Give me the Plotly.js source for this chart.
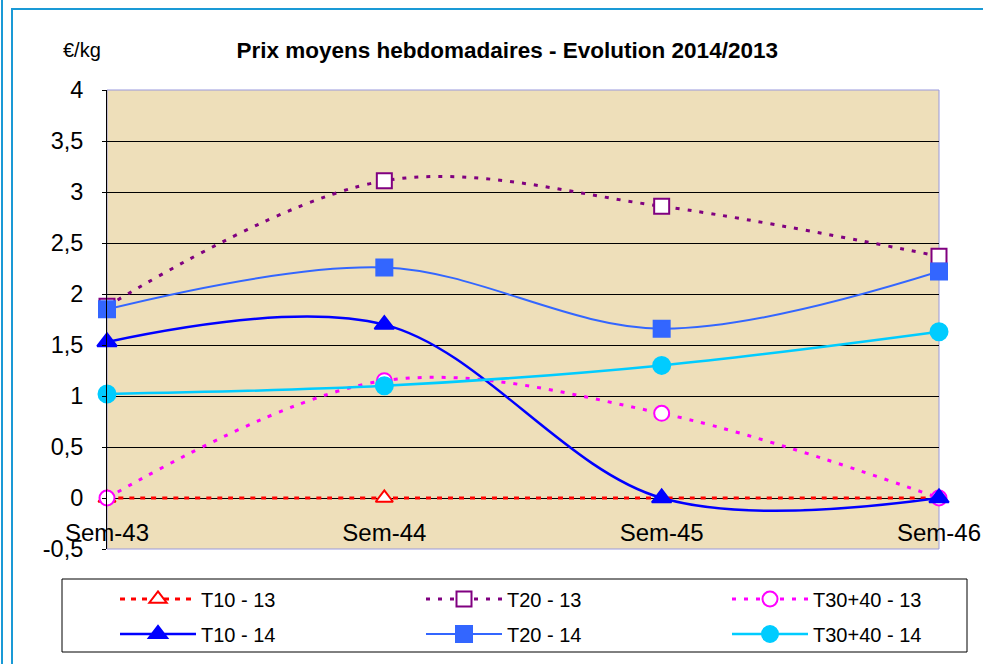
<!DOCTYPE html>
<html>
<head>
<meta charset="utf-8">
<script src="https://cdn.plot.ly/plotly-3.0.1.min.js"></script>
<style>
html,body{margin:0;padding:0;background:#fff;}
#wrap{position:relative;width:983px;height:664px;overflow:hidden;}
#chart{position:absolute;left:0;top:0;width:983px;height:664px;}
.fl{position:absolute;background:#1a9ad6;pointer-events:none;}
</style>
</head>
<body>
<div id="wrap">
<div id="chart"></div>
<div class="fl" style="left:1px;top:0;width:2px;height:664px;"></div>
<div class="fl" style="left:11px;top:8px;width:2px;height:656px;"></div>
<div class="fl" style="left:11px;top:8px;width:972px;height:2px;"></div>
</div>
<script>
const weeks = ["Sem-43", "Sem-44", "Sem-45", "Sem-46"];
const seriesNames = ["T10 - 13", "T20 - 13", "T30+40 - 13", "T10 - 14", "T20 - 14", "T30+40 - 14"];
const t10_13 = [0, 0, 0, 0];
const t20_13 = [1.88, 3.11, 2.86, 2.37];
const t3040_13 = [0, 1.15, 0.83, 0];
const t10_14 = [1.53, 1.70, 0, 0];
const t20_14 = [1.85, 2.26, 1.66, 2.22];
const t3040_14 = [1.02, 1.10, 1.30, 1.63];
const yTickVals = [-0.5, 0, 0.5, 1, 1.5, 2, 2.5, 3, 3.5, 4];
const yTickText = ["-0,5", "0", "0,5", "1", "1,5", "2", "2,5", "3", "3,5", "4"];

function tr(name, y, color, dash, width, symbol, fill, msize, leg) {
  return {
    type: "scatter", mode: "lines+markers", name: name, x: weeks, y: y, legend: leg,
    line: {color: color, dash: dash, width: width, shape: "spline", smoothing: 1},
    marker: {symbol: symbol, size: msize, color: fill, line: {color: color, width: 2}},
    cliponaxis: false
  };
}
const data = [
  tr(seriesNames[0], t10_13, "#ff0000", "5px,6px", 3, "triangle-up", "#ffffff", 15, "legend"),
  tr(seriesNames[1], t20_13, "#800080", "4px,8px", 3, "square", "#ffffff", 15, "legend2"),
  tr(seriesNames[2], t3040_13, "#ff00ff", "4px,8px", 3, "circle", "#ffffff", 15, "legend3"),
  tr(seriesNames[3], t10_14, "#0000ff", "solid", 2.5, "triangle-up", "#0000ff", 17, "legend4"),
  tr(seriesNames[4], t20_14, "#3366ff", "solid", 2, "square", "#3366ff", 16, "legend5"),
  tr(seriesNames[5], t3040_14, "#00ccff", "solid", 2.5, "circle", "#00ccff", 17, "legend6")
];
const font = "Liberation Sans, Arial, sans-serif";
function legendCfg(xc, yc) {
  return {orientation: "h", xref: "container", yref: "container", x: xc / 983, xanchor: "left",
    y: 1 - yc / 664, yanchor: "middle", bgcolor: "rgba(0,0,0,0)", borderwidth: 0,
    itemwidth: 76, font: {size: 20, family: font}};
}
const layout = {
  width: 983, height: 664,
  margin: {l: 107, r: 44, t: 90, b: 115},
  paper_bgcolor: "rgba(0,0,0,0)",
  plot_bgcolor: "#eedfba",
  font: {family: font, color: "#000"},
  showlegend: true,
  title: {text: "<b>Prix moyens hebdomadaires - Evolution 2014/2013</b>", font: {size: 22.5, family: font},
    x: 0.516, xanchor: "center", xref: "container", y: 1 - 50 / 664, yanchor: "middle", yref: "container"},
  xaxis: {type: "category", range: [0, 3], showgrid: false, zeroline: false, showline: false,
    anchor: "free", position: 0.5 / 4.5, ticks: "", ticklabelstandoff: 18,
    tickfont: {size: 24, family: font}},
  yaxis: {range: [-0.5, 4], tickmode: "array", tickvals: yTickVals, ticktext: yTickText,
    showgrid: true, gridcolor: "#000", gridwidth: 1,
    zeroline: true, zerolinecolor: "#000", zerolinewidth: 1,
    showline: true, linecolor: "#000", linewidth: 1, ticks: "outside", ticklen: 4, tickcolor: "#000",
    tickfont: {size: 23.5, family: font}, ticklabelstandoff: 14},
  legend: legendCfg(115, 599),
  legend2: legendCfg(421, 599),
  legend3: legendCfg(727, 599),
  legend4: legendCfg(115, 634),
  legend5: legendCfg(421, 634),
  legend6: legendCfg(727, 634),
  shapes: [
    {type: "rect", xref: "paper", yref: "paper", x0: 0, x1: 1, y0: 0, y1: 1,
      line: {color: "#9999dd", width: 1}, layer: "below"},
    {type: "rect", xref: "paper", yref: "paper", x0: (62 - 107) / 832, x1: (967 - 107) / 832,
      y0: (549 - 652) / 459, y1: (549 - 579) / 459, line: {color: "#000", width: 1}, layer: "below"}
  ],
  annotations: [{text: "€/kg", xref: "paper", yref: "paper", x: (61 - 107) / 832, y: (549 - 50) / 459,
    xanchor: "left", yanchor: "middle", showarrow: false, font: {size: 20, family: font}}]
};
Plotly.newPlot("chart", data, layout, {displayModeBar: false, staticPlot: true});
</script>
</body>
</html>
